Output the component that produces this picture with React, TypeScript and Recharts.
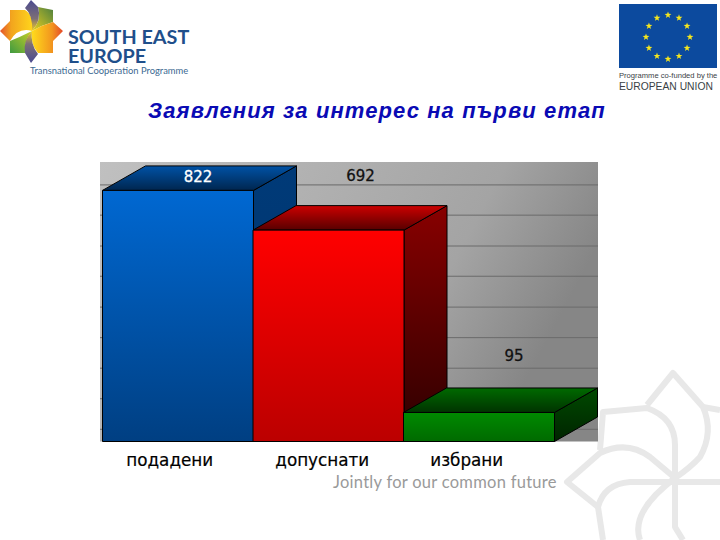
import { BarChart, Bar, XAxis, YAxis, CartesianGrid, LabelList } from 'recharts';

const categories = ['подадени', 'допуснати', 'избрани'];
const values = [822, 692, 95];
const gridValues = [40, 140, 240, 340, 440, 541, 640, 741, 840];

const chartData = categories.map((name, i) => ({ name, value: values[i] }));

// how far the value labels and tick labels sit from the bar centre in the picture
const labelNudge = [
  { dx: 20, dy: -13 },
  { dx: 32, dy: -54 },
  { dx: 35, dy: -56 },
];
const tickNudge = [-8, -6, -12];
const labelColors = ['#ffffff', '#111111', '#111111'];

const DEPTH_X = 43;
const DEPTH_Y = 24.5;
const FONT = '"DejaVu Sans", sans-serif';

const palette = [
  { front: ['#0068d2', '#003f82'], top: ['#0052a6', '#00264f'], side: ['#003a78', '#00356c'] },
  { front: ['#ff0000', '#bb0000'], top: ['#cc0000', '#570000'], side: ['#880000', '#2c0000'] },
  { front: ['#008a00', '#006a00'], top: ['#006a00', '#003300'], side: ['#004a00', '#002400'] },
];

function Bar3D(props: any) {
  const { x, y, width, height, index } = props;
  const r = x + width;
  const b = y + height;
  return (
    <g stroke="#000000" strokeWidth={1} strokeLinejoin="round">
      <polygon
        points={`${r},${y} ${r + DEPTH_X},${y - DEPTH_Y} ${r + DEPTH_X},${b - DEPTH_Y} ${r},${b}`}
        fill={`url(#side${index})`}
      />
      <polygon
        points={`${x},${y} ${x + DEPTH_X},${y - DEPTH_Y} ${r + DEPTH_X},${y - DEPTH_Y} ${r},${y}`}
        fill={`url(#top${index})`}
      />
      <rect x={x} y={y} width={width} height={height} fill={`url(#front${index})`} />
    </g>
  );
}

function CategoryTick(props: any) {
  const { x, y, payload, index } = props;
  return (
    <text
      x={x + tickNudge[index]}
      y={y + 16}
      textAnchor="middle"
      fontFamily={FONT}
      fontSize={16.8}
      fill="#000000"
      stroke="#000000"
      strokeWidth={0.2}
    >
      {payload.value}
    </text>
  );
}

function ValueLabel(props: any) {
  const { x, y, width, value, index } = props;
  const nudge = labelNudge[index];
  return (
    <text
      x={x + width / 2 + nudge.dx}
      y={y + nudge.dy}
      textAnchor="middle"
      dominantBaseline="middle"
      fontFamily={FONT}
      fontSize={15}
      fill={labelColors[index]}
      stroke={labelColors[index]}
      strokeWidth={0.3}
    >
      {value}
    </text>
  );
}

function Star({ cx, cy, r }: { cx: number; cy: number; r: number }) {
  const pts = [];
  for (let i = 0; i < 10; i++) {
    const a = -Math.PI / 2 + (i * Math.PI) / 5;
    const rr = i % 2 === 0 ? r : r * 0.4;
    pts.push(`${cx + rr * Math.cos(a)},${cy + rr * Math.sin(a)}`);
  }
  return <polygon points={pts.join(' ')} fill="#f5e61e" />;
}

function Decorations() {
  const stars = Array.from({ length: 12 }, (_, i) => {
    const a = (i * Math.PI) / 6;
    return <Star key={i} cx={668 + 22 * Math.sin(a)} cy={37 - 22 * Math.cos(a)} r={3.6} />;
  });
  return (
    <svg width={720} height={540} style={{ position: 'absolute', left: 0, top: 0 }}>
      <defs>
        <linearGradient id="petalLeft" x1="0" y1="0" x2="1" y2="0">
          <stop offset="0%" stopColor="#e4522a" />
          <stop offset="35%" stopColor="#f2a51e" />
          <stop offset="100%" stopColor="#ffd51c" />
        </linearGradient>
        <linearGradient id="petalRight" x1="1" y1="0" x2="0" y2="0">
          <stop offset="0%" stopColor="#e4482a" />
          <stop offset="35%" stopColor="#f2951e" />
          <stop offset="100%" stopColor="#ffdc1c" />
        </linearGradient>
        <linearGradient id="petalGreenUp" x1="1" y1="0" x2="0" y2="1">
          <stop offset="0%" stopColor="#4d7f3e" />
          <stop offset="100%" stopColor="#e8d020" />
        </linearGradient>
        <linearGradient id="petalGreenDown" x1="0" y1="1" x2="1" y2="0">
          <stop offset="0%" stopColor="#3f9a40" />
          <stop offset="100%" stopColor="#c8cf28" />
        </linearGradient>
        <linearGradient id="petalPurpleTop" x1="0" y1="0" x2="0" y2="1">
          <stop offset="0%" stopColor="#4a4a90" />
          <stop offset="60%" stopColor="#7d6f76" />
          <stop offset="100%" stopColor="#f0cc20" />
        </linearGradient>
        <linearGradient id="petalPurpleBottom" x1="0" y1="1" x2="0" y2="0">
          <stop offset="0%" stopColor="#4a4a90" />
          <stop offset="60%" stopColor="#7d6f76" />
          <stop offset="100%" stopColor="#f0cc20" />
        </linearGradient>
      </defs>

      {/* flower logo */}
      <path d="M0 31 L10 21 L10 10 L25 10 Q34 15 32 31 Q18 27 10 41 Z" fill="url(#petalLeft)" />
      <path d="M38 7 L53 10 L53 22 Q42 25 32 31 Q42 20 38 7 Z" fill="url(#petalGreenUp)" />
      <path d="M63 31 L53 22 Q42 25 32 31 Q30 44 38 53 L53 53 L53 41 Z" fill="url(#petalRight)" />
      <path d="M10 53 L25 53 Q24 40 32 31 Q20 37 10 41 Z" fill="url(#petalGreenDown)" />
      <path d="M31 0 L25 8 Q33 15 32 31 Q42 20 38 7 Z" fill="url(#petalPurpleTop)" />
      <path d="M31 63 L38 54 Q30 44 32 31 Q23 40 25 53 Z" fill="url(#petalPurpleBottom)" />

      <text x={68} y={44} fontFamily="Lato, sans-serif" fontWeight={700} fontSize={19.8} fill="#1f4f8b">SOUTH EAST</text>
      <text x={68} y={63} fontFamily="Lato, sans-serif" fontWeight={700} fontSize={19.8} fill="#1f4f8b">EUROPE</text>
      <text x={30} y={74} fontFamily="Lato, sans-serif" fontSize={9.4} fill="#3d6a92">Transnational Cooperation Programme</text>

      {/* EU flag */}
      <rect x={619} y={4} width={98} height={64} fill="#0c4a9e" />
      {stars}
      <text x={619} y={78} fontFamily='"Liberation Sans", sans-serif' fontSize={7.6} fill="#3a3f46">Programme co-funded by the</text>
      <text x={619} y={90} fontFamily='"Liberation Sans", sans-serif' fontSize={10.3} fill="#3a3f46">EUROPEAN UNION</text>

      {/* watermark */}
      <g fill="none" stroke="#e8e8e8" strokeWidth={6} strokeLinejoin="round">
        <path d="M647 405 L673 373 L703 407 Q714 432 700 457 Q690 468 675 478" />
        <path d="M600 450 L603 412 L647 408 Q675 418 675 445 L675 527 L683 540" />
        <path d="M598 507 L567 482 L600 453 Q627 440 650 457 L675 478" />
        <path d="M603 540 L598 507 Q604 484 630 482 L720 482" />
        <path d="M675 478 Q630 512 640 540" />
        <path d="M703 407 L720 410" />
      </g>

      <text x={333} y={488} fontFamily="Lato, sans-serif" fontSize={16.5} letterSpacing={0.27} fill="#9a9a9a">Jointly for our common future</text>

      <text x={148} y={118} fontFamily='"Liberation Sans", sans-serif' fontWeight={700} fontStyle="italic" fontSize={22} letterSpacing={1.1} fill="#0a0ab4">
        Заявления за интерес на първи етап
      </text>
    </svg>
  );
}

export default function App() {
  return (
    <div style={{ position: 'absolute', left: 0, top: 0, width: 720, height: 540, background: '#ffffff', overflow: 'hidden' }}>
      <Decorations />
      <div style={{ position: 'absolute', left: 0, top: 0 }}>
        <BarChart
          width={720}
          height={540}
          data={chartData}
          barCategoryGap={0}
          margin={{ top: 162, right: 122, bottom: 58.5, left: 100 }}
        >
          <defs>
            <linearGradient id="wall" x1="0" y1="0" x2="1" y2="0.3">
              <stop offset="0%" stopColor="#c0c0c0" />
              <stop offset="75%" stopColor="#a4a4a4" />
              <stop offset="100%" stopColor="#868686" />
            </linearGradient>
            {palette.map((p, i) => (
              <g key={i}>
                <linearGradient id={`front${i}`} x1="0" y1="0" x2="0" y2="1">
                  <stop offset="0%" stopColor={p.front[0]} />
                  <stop offset="100%" stopColor={p.front[1]} />
                </linearGradient>
                <linearGradient id={`top${i}`} x1="0" y1="0" x2="0" y2="1">
                  <stop offset="0%" stopColor={p.top[0]} />
                  <stop offset="100%" stopColor={p.top[1]} />
                </linearGradient>
                <linearGradient id={`side${i}`} x1="0" y1="0" x2="0" y2="1">
                  <stop offset="0%" stopColor={p.side[0]} />
                  <stop offset="100%" stopColor={p.side[1]} />
                </linearGradient>
              </g>
            ))}
          </defs>
          <CartesianGrid
            vertical={false}
            horizontalValues={gridValues}
            stroke="#6a6a6a"
            strokeWidth={1}
            fill="url(#wall)"
            fillOpacity={1}
          />
          <XAxis
            dataKey="name"
            height={40}
            axisLine={false}
            tickLine={false}
            interval={0}
            padding={{ left: 2.5, right: 44 }}
            tick={<CategoryTick />}
          />
          <YAxis hide domain={[0, 915]} ticks={gridValues} />
          <Bar dataKey="value" shape={<Bar3D />} isAnimationActive={false}>
            <LabelList dataKey="value" content={<ValueLabel />} />
          </Bar>
        </BarChart>
      </div>
    </div>
  );
}
